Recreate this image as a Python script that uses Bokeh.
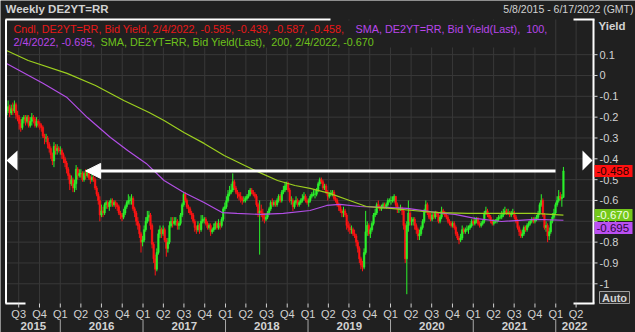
import pandas as pd
from bokeh.plotting import figure
from bokeh.models import Arrow, NormalHead, PolyAnnotation, Range1d, ColumnDataSource
from bokeh.core.properties import value
from bokeh.embed import file_html
from bokeh.resources import INLINE

# ---------------- data (weekly candles, DE2YT=RR bid yield) ----------------
first_open = -0.19

close_2015 = [-0.17, -0.15, -0.18, -0.16, -0.17, -0.14, -0.19, -0.20, -0.23, -0.25, -0.21, -0.20, -0.22,
              -0.20, -0.24, -0.22, -0.20, -0.21, -0.24, -0.22, -0.23, -0.24, -0.25, -0.29, -0.30, -0.30,
              -0.33, -0.35, -0.38, -0.41, -0.34, -0.36, -0.35, -0.36]
high_2015 = [-0.15, -0.12, -0.14, -0.14, -0.13, -0.12, -0.13, -0.17, -0.19, -0.21, -0.20, -0.19, -0.19,
             -0.19, -0.19, -0.20, -0.18, -0.19, -0.20, -0.20, -0.21, -0.22, -0.23, -0.24, -0.28, -0.28,
             -0.29, -0.32, -0.34, -0.37, -0.32, -0.33, -0.33, -0.34]
low_2015 = [-0.20, -0.18, -0.20, -0.19, -0.19, -0.18, -0.21, -0.22, -0.26, -0.27, -0.26, -0.23, -0.24,
            -0.23, -0.25, -0.25, -0.24, -0.23, -0.25, -0.25, -0.25, -0.26, -0.27, -0.30, -0.33, -0.32,
            -0.35, -0.37, -0.40, -0.43, -0.44, -0.38, -0.38, -0.37]

close_2016 = [-0.36, -0.38, -0.40, -0.42, -0.45, -0.48, -0.52, -0.50, -0.54, -0.52, -0.45, -0.48, -0.47,
              -0.47, -0.50, -0.47, -0.48, -0.46, -0.49, -0.50, -0.49, -0.50, -0.54, -0.57, -0.60, -0.67,
              -0.65, -0.66, -0.62, -0.61, -0.63, -0.61, -0.60, -0.62, -0.61, -0.62, -0.63, -0.66, -0.67,
              -0.68, -0.66, -0.63, -0.61, -0.60, -0.60, -0.59, -0.64, -0.66, -0.70, -0.72, -0.76, -0.80,
              -0.79]
high_2016 = [-0.34, -0.35, -0.37, -0.39, -0.41, -0.44, -0.47, -0.48, -0.49, -0.50, -0.43, -0.44, -0.45,
             -0.45, -0.46, -0.46, -0.45, -0.45, -0.45, -0.48, -0.47, -0.48, -0.49, -0.53, -0.56, -0.58,
             -0.62, -0.63, -0.61, -0.60, -0.60, -0.60, -0.59, -0.59, -0.60, -0.60, -0.61, -0.62, -0.65,
             -0.66, -0.64, -0.62, -0.60, -0.57, -0.58, -0.57, -0.58, -0.63, -0.65, -0.68, -0.71, -0.75,
             -0.77]
low_2016 = [-0.38, -0.40, -0.42, -0.44, -0.47, -0.50, -0.55, -0.53, -0.56, -0.56, -0.55, -0.50, -0.49,
            -0.49, -0.51, -0.51, -0.50, -0.49, -0.50, -0.52, -0.51, -0.51, -0.55, -0.58, -0.62, -0.70,
            -0.68, -0.68, -0.67, -0.64, -0.64, -0.65, -0.63, -0.63, -0.63, -0.64, -0.65, -0.67, -0.69,
            -0.70, -0.69, -0.67, -0.64, -0.62, -0.62, -0.62, -0.65, -0.68, -0.72, -0.74, -0.78, -0.85,
            -0.82]

close_2017 = [-0.74, -0.70, -0.68, -0.67, -0.72, -0.81, -0.88, -0.93, -0.85, -0.76, -0.74, -0.76, -0.74,
              -0.79, -0.83, -0.80, -0.72, -0.70, -0.71, -0.70, -0.70, -0.72, -0.71, -0.67, -0.62, -0.57,
              -0.60, -0.63, -0.64, -0.66, -0.67, -0.70, -0.73, -0.74, -0.72, -0.74, -0.70, -0.69, -0.69,
              -0.71, -0.73, -0.72, -0.75, -0.74, -0.73, -0.71, -0.73, -0.71, -0.72, -0.69, -0.64, -0.63]
high_2017 = [-0.72, -0.68, -0.65, -0.65, -0.66, -0.71, -0.80, -0.86, -0.83, -0.74, -0.72, -0.73, -0.72,
             -0.73, -0.78, -0.78, -0.70, -0.68, -0.68, -0.68, -0.68, -0.69, -0.70, -0.66, -0.61, -0.56,
             -0.56, -0.59, -0.62, -0.63, -0.65, -0.66, -0.69, -0.72, -0.70, -0.71, -0.67, -0.67, -0.68,
             -0.68, -0.70, -0.71, -0.71, -0.73, -0.71, -0.70, -0.70, -0.69, -0.70, -0.68, -0.63, -0.61]
low_2017 = [-0.80, -0.75, -0.71, -0.70, -0.74, -0.83, -0.90, -0.96, -0.94, -0.86, -0.78, -0.78, -0.77,
            -0.80, -0.87, -0.85, -0.81, -0.73, -0.73, -0.72, -0.72, -0.74, -0.74, -0.72, -0.68, -0.63,
            -0.61, -0.64, -0.66, -0.67, -0.69, -0.71, -0.75, -0.76, -0.75, -0.76, -0.75, -0.71, -0.71,
            -0.72, -0.74, -0.74, -0.77, -0.76, -0.75, -0.74, -0.74, -0.74, -0.74, -0.73, -0.70, -0.65]

close_2018 = [-0.60, -0.57, -0.56, -0.55, -0.51, -0.54, -0.56, -0.57, -0.58, -0.59, -0.60, -0.60, -0.59,
              -0.58, -0.57, -0.55, -0.56, -0.57, -0.58, -0.62, -0.66, -0.65, -0.66, -0.68, -0.69, -0.68,
              -0.66, -0.64, -0.61, -0.62, -0.61, -0.62, -0.60, -0.58, -0.60, -0.56, -0.55, -0.53, -0.52,
              -0.55, -0.60, -0.60, -0.63, -0.61, -0.60, -0.62, -0.61, -0.60, -0.59, -0.58, -0.60, -0.61]
high_2018 = [-0.58, -0.55, -0.53, -0.52, -0.47, -0.50, -0.53, -0.55, -0.56, -0.56, -0.58, -0.58, -0.58,
             -0.57, -0.55, -0.54, -0.54, -0.55, -0.56, -0.57, -0.61, -0.60, -0.62, -0.64, -0.66, -0.66,
             -0.65, -0.63, -0.60, -0.59, -0.60, -0.60, -0.59, -0.57, -0.57, -0.55, -0.53, -0.51, -0.51,
             -0.51, -0.54, -0.58, -0.59, -0.60, -0.58, -0.59, -0.60, -0.59, -0.57, -0.56, -0.57, -0.59]
low_2018 = [-0.64, -0.61, -0.58, -0.57, -0.56, -0.55, -0.57, -0.59, -0.60, -0.61, -0.62, -0.61, -0.61,
            -0.60, -0.59, -0.58, -0.57, -0.58, -0.59, -0.63, -0.68, -0.86, -0.68, -0.70, -0.71, -0.70,
            -0.69, -0.67, -0.65, -0.63, -0.63, -0.63, -0.63, -0.61, -0.61, -0.61, -0.57, -0.56, -0.55,
            -0.56, -0.61, -0.62, -0.65, -0.64, -0.62, -0.63, -0.63, -0.62, -0.61, -0.60, -0.61, -0.62]

close_2019 = [-0.60, -0.58, -0.57, -0.57, -0.57, -0.55, -0.52, -0.50, -0.51, -0.54, -0.53, -0.56, -0.58,
              -0.57, -0.57, -0.56, -0.59, -0.60, -0.62, -0.63, -0.65, -0.66, -0.65, -0.67, -0.72, -0.73,
              -0.74, -0.74, -0.76, -0.77, -0.80, -0.83, -0.88, -0.91, -0.92, -0.85, -0.75, -0.72, -0.76,
              -0.74, -0.71, -0.67, -0.66, -0.62, -0.63, -0.64, -0.63, -0.62, -0.63, -0.62, -0.60, -0.60]
high_2019 = [-0.59, -0.57, -0.56, -0.55, -0.55, -0.54, -0.51, -0.49, -0.49, -0.50, -0.52, -0.52, -0.55,
             -0.56, -0.55, -0.55, -0.55, -0.58, -0.59, -0.61, -0.62, -0.64, -0.63, -0.64, -0.66, -0.70,
             -0.71, -0.72, -0.73, -0.74, -0.76, -0.79, -0.82, -0.87, -0.89, -0.83, -0.65, -0.70, -0.71,
             -0.73, -0.70, -0.66, -0.64, -0.61, -0.60, -0.62, -0.62, -0.61, -0.61, -0.61, -0.59, -0.59]
low_2019 = [-0.63, -0.61, -0.59, -0.58, -0.59, -0.58, -0.56, -0.53, -0.52, -0.55, -0.55, -0.57, -0.60,
            -0.59, -0.58, -0.58, -0.60, -0.61, -0.63, -0.65, -0.66, -0.68, -0.68, -0.68, -0.74, -0.75,
            -0.76, -0.76, -0.77, -0.78, -0.82, -0.85, -0.90, -0.93, -0.94, -0.93, -0.86, -0.77, -0.77,
            -0.78, -0.75, -0.72, -0.68, -0.67, -0.64, -0.65, -0.65, -0.64, -0.64, -0.64, -0.63, -0.61]

close_2020 = [-0.60, -0.60, -0.58, -0.62, -0.64, -0.64, -0.64, -0.65, -0.72, -0.88, -0.72, -0.66, -0.70,
              -0.70, -0.69, -0.72, -0.74, -0.77, -0.76, -0.73, -0.70, -0.65, -0.62, -0.66, -0.68, -0.69,
              -0.67, -0.68, -0.66, -0.67, -0.70, -0.68, -0.65, -0.66, -0.67, -0.68, -0.70, -0.71, -0.72,
              -0.71, -0.73, -0.76, -0.78, -0.79, -0.78, -0.74, -0.75, -0.74, -0.74, -0.73, -0.72, -0.70]
high_2020 = [-0.58, -0.58, -0.57, -0.58, -0.61, -0.63, -0.62, -0.63, -0.64, -0.71, -0.70, -0.60, -0.64,
             -0.68, -0.68, -0.68, -0.71, -0.73, -0.74, -0.72, -0.69, -0.64, -0.60, -0.61, -0.65, -0.66,
             -0.66, -0.66, -0.65, -0.65, -0.66, -0.67, -0.63, -0.64, -0.65, -0.66, -0.67, -0.69, -0.70,
             -0.70, -0.70, -0.72, -0.75, -0.77, -0.76, -0.72, -0.73, -0.73, -0.72, -0.72, -0.71, -0.69]
low_2020 = [-0.62, -0.61, -0.61, -0.63, -0.66, -0.66, -0.65, -0.67, -0.74, -0.90, -1.05, -0.75, -0.72,
            -0.72, -0.72, -0.74, -0.76, -0.79, -0.79, -0.77, -0.74, -0.71, -0.66, -0.67, -0.69, -0.70,
            -0.70, -0.69, -0.69, -0.68, -0.71, -0.71, -0.69, -0.67, -0.68, -0.69, -0.71, -0.72, -0.73,
            -0.73, -0.74, -0.77, -0.79, -0.81, -0.80, -0.79, -0.76, -0.76, -0.75, -0.76, -0.74, -0.73]

close_2021 = [-0.71, -0.70, -0.69, -0.71, -0.72, -0.71, -0.70, -0.66, -0.65, -0.67, -0.68, -0.70, -0.71,
              -0.70, -0.70, -0.69, -0.68, -0.68, -0.67, -0.66, -0.65, -0.66, -0.66, -0.67, -0.66, -0.66,
              -0.68, -0.70, -0.73, -0.75, -0.77, -0.76, -0.73, -0.74, -0.72, -0.71, -0.70, -0.69, -0.70,
              -0.69, -0.68, -0.66, -0.62, -0.60, -0.67, -0.73, -0.72, -0.77, -0.75, -0.70, -0.68, -0.66,
              -0.62]
high_2021 = [-0.69, -0.68, -0.68, -0.68, -0.70, -0.70, -0.69, -0.65, -0.63, -0.64, -0.66, -0.67, -0.69,
             -0.69, -0.69, -0.68, -0.67, -0.66, -0.65, -0.64, -0.63, -0.64, -0.64, -0.65, -0.65, -0.64,
             -0.65, -0.67, -0.69, -0.72, -0.74, -0.74, -0.72, -0.72, -0.71, -0.70, -0.69, -0.68, -0.68,
             -0.68, -0.67, -0.65, -0.61, -0.57, -0.59, -0.66, -0.70, -0.71, -0.73, -0.69, -0.66, -0.64,
             -0.61]
low_2021 = [-0.72, -0.72, -0.71, -0.72, -0.73, -0.73, -0.72, -0.71, -0.67, -0.68, -0.69, -0.71, -0.72,
            -0.72, -0.71, -0.71, -0.70, -0.69, -0.69, -0.68, -0.67, -0.67, -0.67, -0.68, -0.68, -0.67,
            -0.69, -0.71, -0.74, -0.77, -0.78, -0.78, -0.77, -0.75, -0.75, -0.73, -0.72, -0.71, -0.71,
            -0.71, -0.70, -0.69, -0.67, -0.63, -0.68, -0.74, -0.75, -0.80, -0.79, -0.76, -0.71, -0.69,
            -0.67]

close_2022 = [-0.60, -0.58, -0.59, -0.585, -0.458]
high_2022 = [-0.58, -0.55, -0.56, -0.57, -0.439]
low_2022 = [-0.63, -0.61, -0.60, -0.63, -0.587]

# moving averages (weekly SMA 100 / 200)
sma100_dates = ["2015-05-08", "2015-10-18", "2016-01-31", "2016-04-30", "2016-08-10", "2016-10-25",
                "2017-01-15", "2017-04-04", "2017-07-01", "2017-09-28", "2017-12-17", "2018-02-20",
                "2018-06-05", "2018-09-14", "2019-01-10", "2019-03-25", "2019-05-22", "2019-08-19",
                "2020-01-01", "2020-03-15", "2020-07-25", "2020-10-12", "2021-01-08", "2021-05-06",
                "2021-09-29", "2022-02-04"]
sma100_vals = [0.058, -0.038, -0.106, -0.202, -0.298, -0.360, -0.422, -0.504, -0.562, -0.610, -0.658,
               -0.662, -0.667, -0.662, -0.648, -0.624, -0.619, -0.629, -0.634, -0.638, -0.658, -0.667,
               -0.686, -0.701, -0.691, -0.695]
sma200_dates = ["2015-05-08", "2015-08-12", "2016-01-31", "2016-06-05", "2016-10-08", "2017-01-28",
                "2017-04-04", "2017-07-01", "2017-09-28", "2017-12-26", "2018-03-27", "2018-06-09",
                "2018-08-19", "2018-11-04", "2019-01-10", "2019-04-07", "2019-07-04", "2019-09-16",
                "2020-01-01", "2020-05-26", "2020-08-08", "2020-12-08", "2021-05-06", "2021-09-29",
                "2022-02-04"]
sma200_vals = [0.120, 0.072, 0.010, -0.048, -0.120, -0.178, -0.216, -0.274, -0.326, -0.384, -0.432,
               -0.470, -0.504, -0.528, -0.542, -0.566, -0.600, -0.629, -0.638, -0.653, -0.658, -0.662,
               -0.662, -0.662, -0.670]

# axis texts
ytick_vals = [0.1, 0.0, -0.1, -0.2, -0.3, -0.4, -0.5, -0.6, -0.7, -0.8, -0.9, -1.0]
ytick_labels = ["0.1", "0", "-0.1", "-0.2", "-0.3", "-0.4", "-0.5", "-0.6", "-0.7", "-0.8", "-0.9", "-1"]
quarter_labels = ["Q3", "Q4"] + ["Q1", "Q2", "Q3", "Q4"] * 6 + ["Q1", "Q2"]
year_labels = ["2015", "2016", "2017", "2018", "2019", "2020", "2021", "2022"]
range_start, range_end = "2015-05-08", "2022-06-17"
y_top, y_bottom = 0.2688, -1.0946

# ---------------- assemble ----------------
closes = close_2015 + close_2016 + close_2017 + close_2018 + close_2019 + close_2020 + close_2021 + close_2022
highs = high_2015 + high_2016 + high_2017 + high_2018 + high_2019 + high_2020 + high_2021 + high_2022
lows = low_2015 + low_2016 + low_2017 + low_2018 + low_2019 + low_2020 + low_2021 + low_2022
opens = [first_open] + closes[:-1]
dates = pd.date_range(end="2022-02-04", periods=len(closes), freq="W-FRI")

UP, DOWN = "#2cf22c", "#ff1414"
colors = [UP if c >= o else DOWN for o, c in zip(opens, closes)]
src = ColumnDataSource(dict(x=dates, open=opens, close=closes, high=highs, low=lows,
                            top=[max(o, c) for o, c in zip(opens, closes)],
                            bottom=[min(o, c) for o, c in zip(opens, closes)], color=colors))


def ms(d):
    return float(pd.Timestamp(d).value // 10**6)


# plot-area placement on the 635x332 canvas: x 6..593, y 19..303 (pixels)
PL, PR, PT, PB = 6, 593, 19, 303
X0, X1 = ms(range_start), ms(range_end)
KX = (X1 - X0) / (PR - PL)
KY = (y_top - y_bottom) / (PB - PT)


def px(x):
    return X0 + (x - PL) * KX


def py(y):
    return y_top - (y - PT) * KY


BG = "#202020"
GRID = "#383838"
TXT = "#d2d2d2"
PURPLE = "#b24ee6"
LIME = "#9ccf1e"
FONT = value("Liberation Sans")

p = figure(width=635, height=332, output_backend="svg", toolbar_location=None, title=None,
           x_axis_type=None, y_axis_type=None,
           x_range=Range1d(px(0), px(635)), y_range=Range1d(py(332), py(0)),
           min_border=0, min_border_left=0, min_border_right=0, min_border_top=0, min_border_bottom=0,
           background_fill_color=BG, border_fill_color=BG, outline_line_color=None)

qticks = [ms(d) for d in pd.date_range(start="2015-07-01", periods=len(quarter_labels), freq="QS")]
ybounds = [ms(f"{y}-01-01") for y in year_labels[1:]]
edges = [X0] + ybounds + [X1]
ymids = [(a + b) / 2 for a, b in zip(edges[:-1], edges[1:])]

# grid
p.segment(x0=qticks, y0=[y_bottom] * len(qticks), x1=qticks, y1=[y_top] * len(qticks),
          line_color=GRID, line_width=1)
p.segment(x0=[X0] * len(ytick_vals), y0=ytick_vals, x1=[X1] * len(ytick_vals), y1=ytick_vals,
          line_color=GRID, line_width=1)

# candles
p.segment(x0="x", y0="low", x1="x", y1="high", color="color", line_width=1, source=src)
p.vbar(x="x", top="top", bottom="bottom", width=6.5 * 86400000, fill_color="color",
       line_color="color", line_width=0.6, source=src)

# moving averages
p.line(x=pd.to_datetime(sma100_dates), y=sma100_vals, color=PURPLE, line_width=1.2)
p.line(x=pd.to_datetime(sma200_dates), y=sma200_vals, color=LIME, line_width=1.2)

# legend background
p.quad(left=px(7), right=px(548), top=py(20), bottom=py(47), fill_color=BG, line_color=None)

# frame pieces
W = "white"
p.segment(x0=[px(5.5), px(593), px(5), px(573), px(5), px(573)],
          y0=[py(19), py(19), py(19), py(19), py(303), py(303)],
          x1=[px(5.5), px(593), px(330), px(594), px(25), px(594)],
          y1=[py(303), py(303), py(19), py(19), py(303), py(303)],
          line_color=W, line_width=2)

# right axis ticks + labels
p.segment(x0=[px(593)] * len(ytick_vals), y0=ytick_vals, x1=[px(597)] * len(ytick_vals), y1=ytick_vals,
          line_color=TXT, line_width=1)
p.text(x=[px(599)] * len(ytick_vals), y=ytick_vals, text=ytick_labels, text_font=FONT,
       text_font_size=value("11px"), text_color=TXT, text_baseline="middle", text_align="left")

# bottom axis: quarter ticks, quarter labels, year labels, year separators
p.segment(x0=qticks, y0=[py(303)] * len(qticks), x1=qticks, y1=[py(307)] * len(qticks),
          line_color=TXT, line_width=1)
p.text(x=qticks, y=[py(313.5)] * len(qticks), text=quarter_labels, text_font=FONT,
       text_font_size=value("11px"), text_color=TXT, text_baseline="middle", text_align="center")
p.text(x=ymids, y=[py(325)] * len(ymids), text=year_labels, text_font=FONT,
       text_font_size=value("11.5px"), text_font_style="bold", text_color=TXT,
       text_baseline="middle", text_align="center")
p.segment(x0=ybounds, y0=[py(319)] * len(ybounds), x1=ybounds, y1=[py(332)] * len(ybounds),
          line_color="#a8a8a8", line_width=1)

# last-value boxes on the right axis
box_specs = [(closes[-1], "#ff1010", "#2a0000"),
             (sma200_vals[-1], "#74c81a", "#f2ffe6"),
             (sma100_vals[-1], "#bb4ff2", "#2c0a3a")]
prev_center = None
for v, bg, fg in box_specs:
    c = v
    if prev_center is not None and abs(prev_center - c) < 13 * KY:
        c = prev_center - 13 * KY
    prev_center = c
    p.quad(left=px(594), right=px(632), top=c + 6 * KY, bottom=c - 6 * KY, fill_color=bg, line_color=None)
    p.text(x=[px(596)], y=[c], text=[f"{v:.3f}"], text_font=FONT, text_font_size=value("11.5px"),
           text_color=fg, text_baseline="middle", text_align="left")

# "Auto" button
p.quad(left=px(599), right=px(629), top=py(291), bottom=py(303), fill_color="#2c2c2c",
       line_color="#a0a0a0", line_width=1)
p.text(x=[px(614)], y=[py(297)], text=["Auto"], text_font=FONT, text_font_size=value("11px"),
       text_font_style="bold", text_color=TXT, text_baseline="middle", text_align="center")

# horizontal arrow drawing at last close
p.add_layout(Arrow(end=NormalHead(size=15, fill_color="white", line_color="white"),
                   x_start=ms("2021-12-31"), y_start=closes[-1],
                   x_end=ms("2016-04-22"), y_end=closes[-1],
                   line_color="white", line_width=3))

# navigation triangles
p.add_layout(PolyAnnotation(xs=[6, 17, 17], ys=[160, 150, 170], xs_units="canvas", ys_units="canvas",
                            fill_color="white", fill_alpha=1, line_color=None))
p.add_layout(PolyAnnotation(xs=[592, 582, 582], ys=[160, 150, 170], xs_units="canvas", ys_units="canvas",
                            fill_color="white", fill_alpha=1, line_color=None))


def tlabel(x, y, text, color, size="11px", bold=False, align="left"):
    p.text(x=[px(x)], y=[py(y)], text=[text], text_color=color, text_font=FONT,
           text_font_size=value(size), text_font_style="bold" if bold else "normal",
           text_align=align, text_baseline="middle")


tlabel(5, 8, "Weekly DE2YT=RR", TXT, size="11.5px", bold=True)
tlabel(633, 8, f"{pd.Timestamp(range_start):%-m/%-d/%Y} - {pd.Timestamp(range_end):%-m/%-d/%Y} (GMT)", TXT,
       size="10.5px", align="right")
tlabel(598, 25, "Yield", TXT, size="11.5px", bold=True)

last = f"{dates[-1].month}/{dates[-1].day}/{dates[-1].year}"
row1_red = f"Cndl, DE2YT=RR, Bid Yield, {last}, {opens[-1]:.3f}, {highs[-1]:.3f}, {lows[-1]:.3f}, {closes[-1]:.3f},"
row1_pur = "SMA, DE2YT=RR, Bid Yield(Last),\u00a0\u00a0100,"
row2_pur = f"{last}, {sma100_vals[-1]:.3f},"
row2_grn = f"SMA, DE2YT=RR, Bid Yield(Last),\u00a0\u00a0200, {last}, {sma200_vals[-1]:.3f}"
RED_T, PUR_T, GRN_T = "#e81818", "#b846ea", "#6ec21c"
tlabel(13, 28, row1_red, RED_T, size="10.8px")
tlabel(355, 28, row1_pur, PUR_T, size="10.8px")
tlabel(13, 41, row2_pur, PUR_T, size="10.8px")
tlabel(100, 41, row2_grn, GRN_T, size="10.8px")

open("out.html", "w").write(file_html(p, INLINE))
